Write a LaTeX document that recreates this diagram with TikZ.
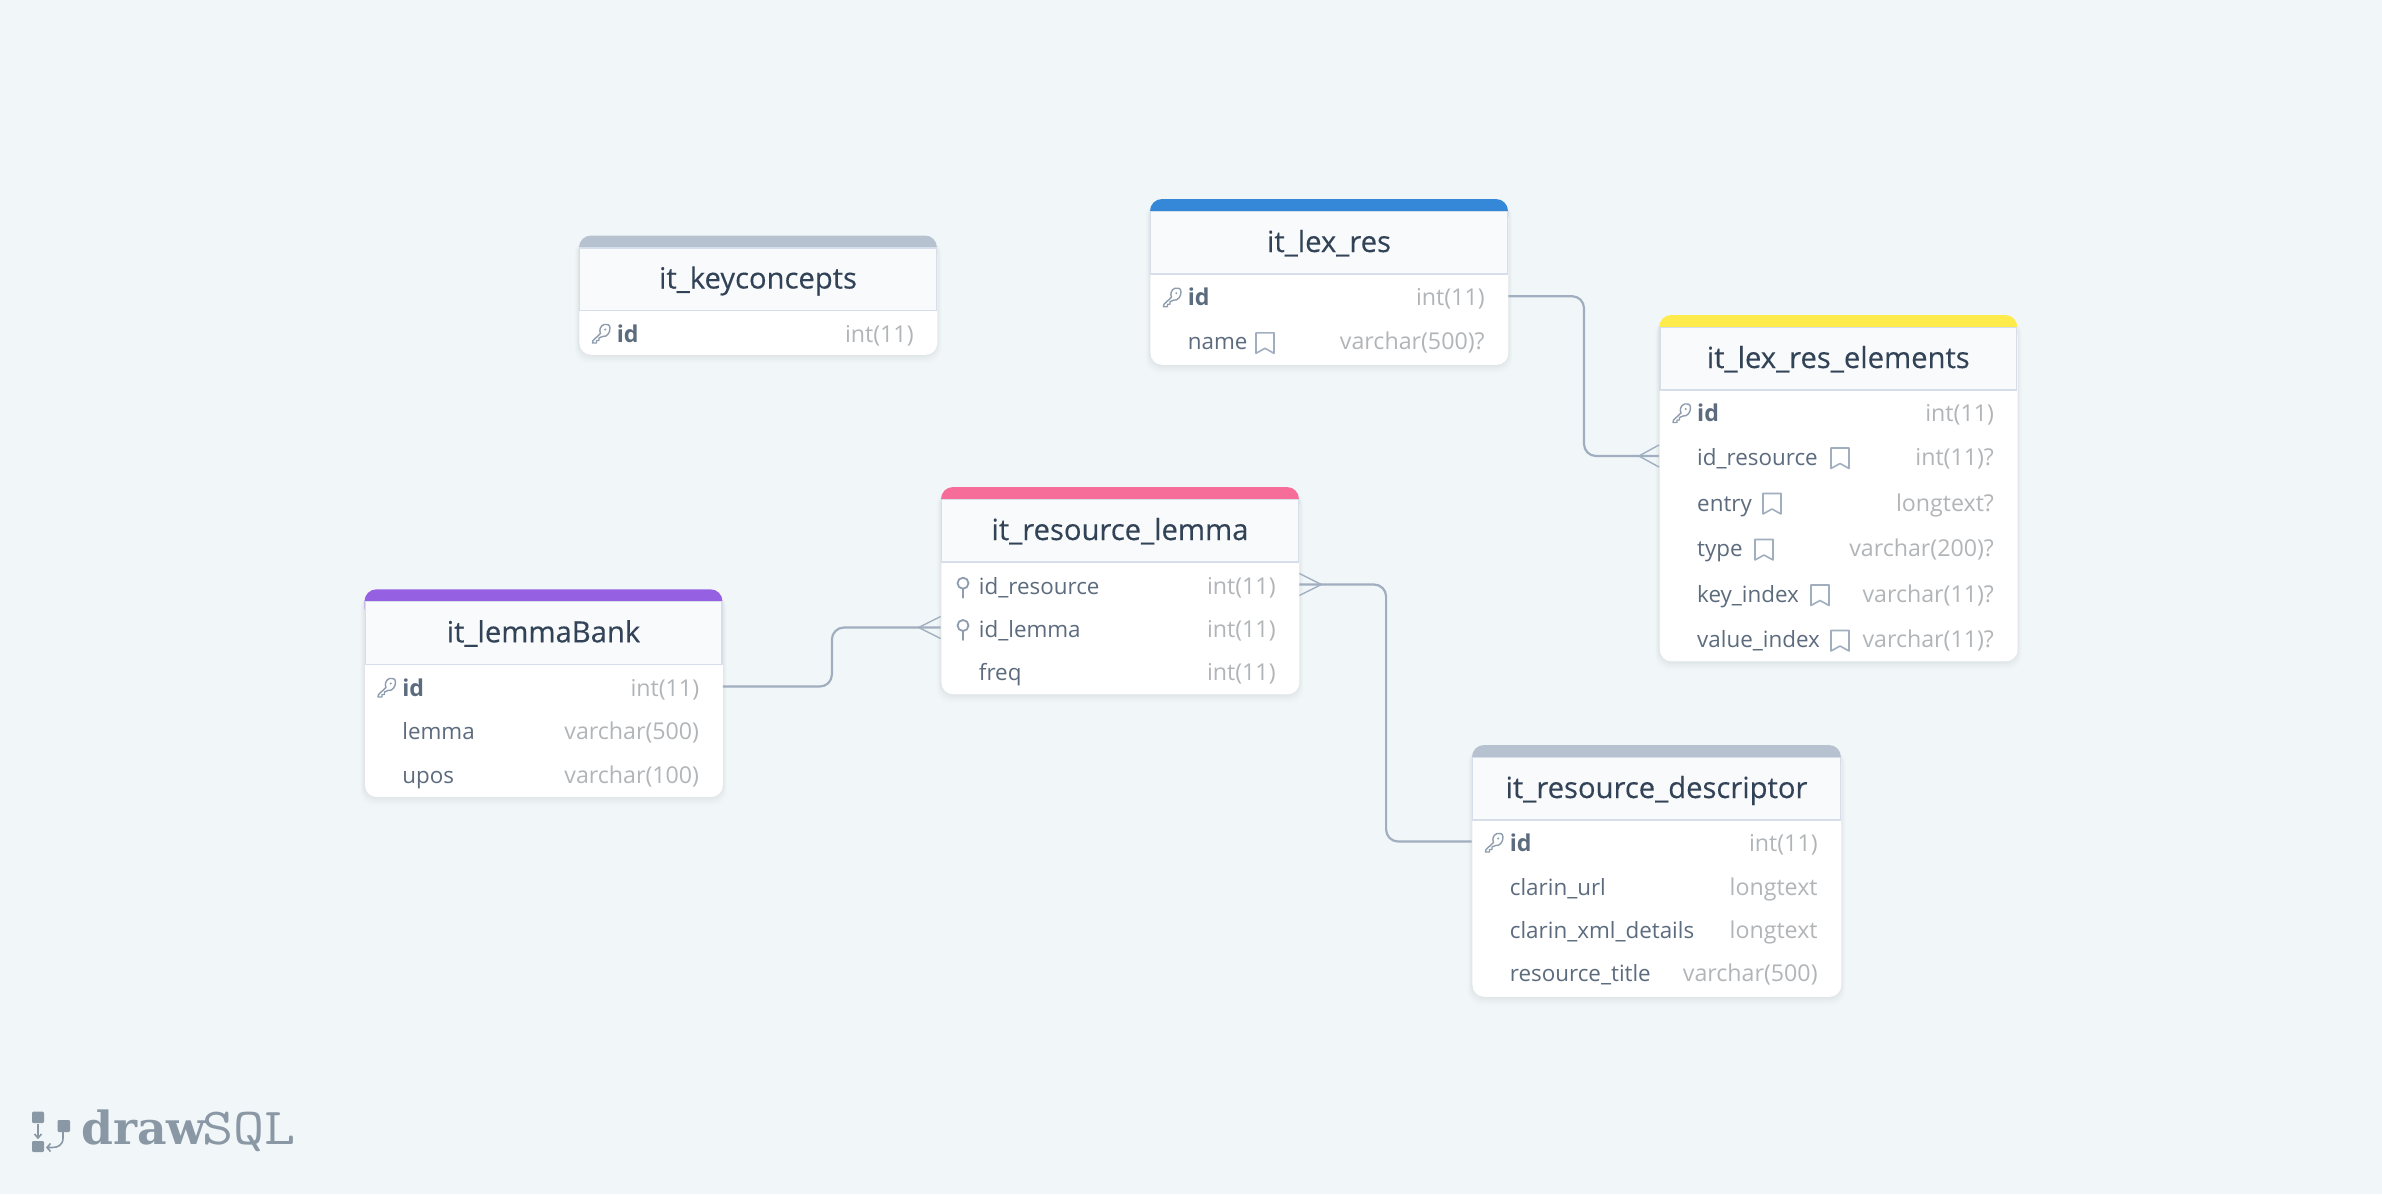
\documentclass[tikz,border=0pt]{standalone}
\usepackage{fontspec}
\setmainfont{Open Sans}
\newfontfamily\titlefont{Open Sans}[RawFeature={embolden=0.3}]
\newfontfamily\logobold{DejaVu Serif}[BoldFont={DejaVu Serif Bold}]
\definecolor{bgc}{HTML}{F1F6F9}
\definecolor{titlec}{HTML}{334357}
\definecolor{rowc}{HTML}{5C6B7D}
\definecolor{typec}{HTML}{B2B5B8}
\definecolor{linec}{HTML}{A0AEC0}
\definecolor{hdrc}{HTML}{F8FAFC}
\definecolor{hdrl}{HTML}{D5DEEA}
\definecolor{iconc}{HTML}{8E9DAE}
\definecolor{logoc}{HTML}{8A97A5}
\definecolor{cblue}{HTML}{3588D8}
\definecolor{cgrey}{HTML}{B6C2CF}
\definecolor{cyellow}{HTML}{FFEB4C}
\definecolor{cpink}{HTML}{F76D9A}
\definecolor{cpurple}{HTML}{9561E2}
\tikzset{
  tablebox/.style={fill=white,rounded corners=6pt,inner sep=0pt,anchor=north west},
  rowbox/.style={inner sep=0pt,minimum height=10pt},
  titletext/.style={text=titlec,font=\titlefont\fontsize{14.6}{16}\selectfont,inner sep=0pt,anchor=base},
  nametext/.style={text=rowc,font=\fontsize{11.2}{14}\selectfont,inner sep=0pt,anchor=base west},
  keytext/.style={text=rowc,font=\fontsize{11.6}{14}\selectfont\bfseries,inner sep=0pt,anchor=base west},
  typetext/.style={text=typec,font=\fontsize{11.6}{14}\selectfont,inner sep=0pt,anchor=base east},
  relline/.style={draw=linec,line width=1.1pt,rounded corners=6pt},
  crow/.style={draw=linec,line width=.7pt},
  iconline/.style={draw=iconc,line width=.7pt,line join=round,line cap=round},
  markline/.style={draw=linec,line width=.8pt,line join=round},
}
% id, left, top, width, bottom, colour, title
\newcommand{\dbtable}[7]{%
  \foreach \sh/\op in {9/.008,7/.012,5/.015,3/.02,1/.02}{%
    \fill[black,opacity=\op,rounded corners=7pt] (#2-\sh/2,#3+4) rectangle (#2+#4+\sh/2,#5+\sh);}
  \node[tablebox,minimum width=#4*0.5pt,minimum height=(#5-#3)*0.5pt] (#1) at (#2,#3) {};
  \fill[#6,rounded corners=6pt] (#2,#3) rectangle (#2+#4,#3+30);
  \filldraw[fill=hdrc,draw=hdrl,line width=.6pt] (#2+.6,#3+12.5) rectangle (#2+#4-.6,#3+75);
  \node[titletext] (#1-title) at (#2+#4/2,#3+53) {#7};
}
% id, left, width, y, style, name, type
\newcommand{\dbrow}[7]{%
  \node[rowbox,minimum width=#3*0.5pt] (#1) at (#2+#3/2,#4-1.5) {};
  \node[#5] (#1-name) at (#2+37.5,#4+8) {#6};
  \node[typetext] (#1-type) at (#2+#3-23,#4+8) {#7};
}
\newcommand{\keyicon}[2]{%
  \begin{scope}[shift={(#1,#2)}]
    \draw[iconline] (9,-6) .. controls (9,-10) and (5,-10) .. (3,-9.5)
      .. controls (-1,-8) and (-2,-3.5) .. (-0.5,-0.5)
      -- (-8,6.5) -- (-8.5,9) -- (-4.5,9) -- (-4.5,6.5) -- (-2,6.5) -- (-2,4) -- (1.5,2.5)
      .. controls (6,3) and (9,-1) .. (9,-6) -- cycle;
    \fill[iconc] (4.3,-4.5) circle (1.1);
  \end{scope}}
\newcommand{\pinicon}[2]{%
  \draw[iconline,line width=.9pt] (#1,#2-3.5) circle (5.5);
  \draw[iconline,line width=.9pt] (#1,#2+2) -- (#1,#2+11);}
\newcommand{\markicon}[2]{%
  \draw[markline] (#1,#2-10) -- (#1+18,#2-10) -- (#1+18,#2+10.5) -- (#1+9,#2+5.5) -- (#1,#2+10.5) -- cycle;}
\begin{document}
\begin{tikzpicture}[x=0.5pt,y=-0.5pt]
\useasboundingbox[fill=bgc] (0,0) rectangle (2382,1194);

% tables
\dbtable{keyc}{579}{235.5}{358}{354.5}{cgrey}{it\_keyconcepts}
\dbrow{keyc-id}{579}{358}{334}{keytext}{id}{int(11)}
\keyicon{601}{334}

\dbtable{lex}{1150}{199}{358}{364.5}{cblue}{it\_lex\_res}
\dbrow{lex-id}{1150}{358}{297.7}{keytext}{id}{int(11)}
\keyicon{1172}{297.7}
\dbrow{lex-name}{1150}{358}{341.8}{nametext}{name}{varchar(500)?}
\markicon{1256}{342.8}

\dbtable{elem}{1659.3}{315}{358}{661}{cyellow}{it\_lex\_res\_elements}
\dbrow{elem-id}{1659.3}{358}{413.5}{keytext}{id}{int(11)}
\keyicon{1681.5}{413.5}
\dbrow{elem-res}{1659.3}{358}{457.5}{nametext}{id\_resource}{int(11)?}
\markicon{1831}{458}
\dbrow{elem-entry}{1659.3}{358}{503}{nametext}{entry}{longtext?}
\markicon{1763}{503.5}
\dbrow{elem-type}{1659.3}{358}{548}{nametext}{type}{varchar(200)?}
\markicon{1755}{549.5}
\dbrow{elem-key}{1659.3}{358}{594}{nametext}{key\_index}{varchar(11)?}
\markicon{1811}{595}
\dbrow{elem-value}{1659.3}{358}{639.5}{nametext}{value\_index}{varchar(11)?}
\markicon{1831}{640.5}

\dbtable{reslem}{941}{487}{358}{694}{cpink}{it\_resource\_lemma}
\dbrow{reslem-res}{941}{358}{586}{nametext}{id\_resource}{int(11)}
\pinicon{963}{586.7}
\dbrow{reslem-lemma}{941}{358}{629}{nametext}{id\_lemma}{int(11)}
\pinicon{963}{629}
\dbrow{reslem-freq}{941}{358}{672}{nametext}{freq}{int(11)}

\dbtable{bank}{364.5}{589.3}{358}{796.7}{cpurple}{it\_lemmaBank}
\dbrow{bank-id}{364.5}{358}{688}{keytext}{id}{int(11)}
\keyicon{386.5}{688}
\dbrow{bank-lemma}{364.5}{358}{731}{nametext}{lemma}{varchar(500)}
\dbrow{bank-upos}{364.5}{358}{775}{nametext}{upos}{varchar(100)}

\dbtable{desc}{1472}{745}{369}{996.5}{cgrey}{it\_resource\_descriptor}
\dbrow{desc-id}{1472}{369}{843}{keytext}{id}{int(11)}
\keyicon{1494}{843}
\dbrow{desc-url}{1472}{369}{887}{nametext}{clarin\_url}{longtext}
\dbrow{desc-xml}{1472}{369}{930}{nametext}{clarin\_xml\_details}{longtext}
\dbrow{desc-title}{1472}{369}{973}{nametext}{resource\_title}{varchar(500)}

% connectors
\draw[relline] (bank-id.east) -- ++(109,0) |- (reslem-lemma.west);
\draw[crow] (reslem-lemma.west) ++(-22,0) -- ++(22,-11);
\draw[crow] (reslem-lemma.west) ++(-22,0) -- ++(22,11);
\draw[relline] (reslem-res.east) -- ++(86.7,0) |- (desc-id.west);
\draw[crow] (reslem-res.east) ++(22,0) -- ++(-22,-11);
\draw[crow] (reslem-res.east) ++(22,0) -- ++(-22,11);
\draw[relline] (lex-id.east) -- ++(75.6,0) |- (elem-res.west);
\draw[crow] (elem-res.west) ++(-20,0) -- ++(20,-11);
\draw[crow] (elem-res.west) ++(-20,0) -- ++(20,11);

% logo
\fill[logoc,rounded corners=.6pt] (32,1111.7) rectangle (44,1123);
\fill[logoc,rounded corners=.6pt] (32,1141) rectangle (44,1152);
\fill[logoc,rounded corners=.6pt] (57.5,1120) rectangle (70,1132);
\draw[logoc,line width=.8pt] (38,1124) -- (38,1138) (34.5,1134) -- (38,1138) -- (41.5,1134);
\draw[logoc,line width=.8pt] (63,1132) -- (63,1138) .. controls (63,1145) and (58,1147.5) .. (52,1147.5) -- (47,1147.5)
  (50.5,1143.5) -- (47,1147.5) -- (50.5,1151.5);
\node[inner sep=0pt,anchor=base west,text=logoc,font=\logobold\bfseries\fontsize{22.8}{24}\selectfont] (logodraw) at (81,1144) {draw};
\node[inner sep=0pt,anchor=base west,text=logoc,font=\ttfamily\fontsize{26}{26}\selectfont] (logosql) at (202,1144) {\scalebox{1.16}[1]{SQL}};
\end{tikzpicture}
\end{document}
